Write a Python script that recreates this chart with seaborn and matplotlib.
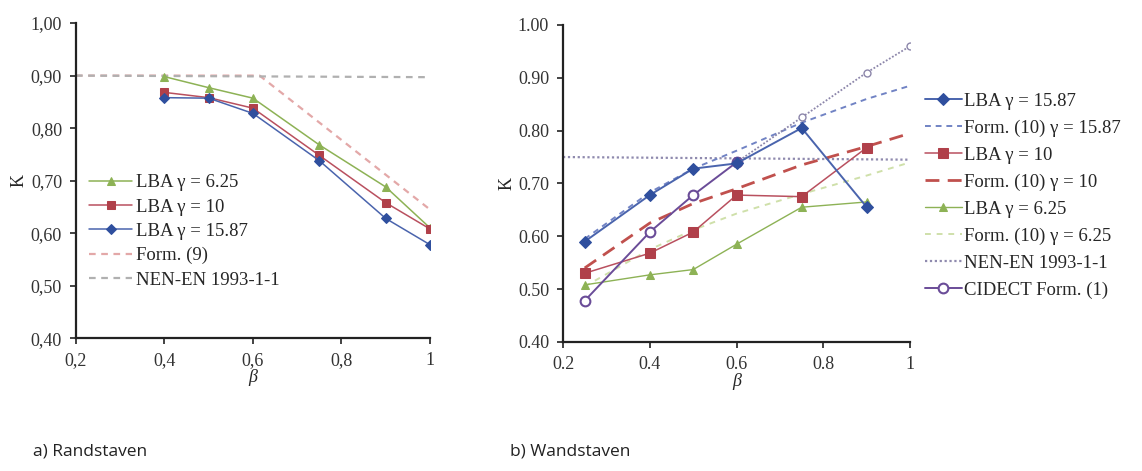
import matplotlib
matplotlib.use("Agg")
import matplotlib.pyplot as plt
import seaborn as sns
import numpy as np

sns.set_style("white")
plt.rcParams['font.family'] = ['Liberation Serif', 'DejaVu Serif']

# ---------------- data: a) Randstaven ----------------
beta_a = [0.4, 0.5, 0.6, 0.75, 0.9, 1.0]
lba_a_625 = [0.898, 0.877, 0.857, 0.768, 0.688, 0.610]
lba_a_10 = [0.868, 0.858, 0.838, 0.748, 0.658, 0.608]
lba_a_1587 = [0.858, 0.857, 0.828, 0.738, 0.628, 0.578]
form9_x = [0.2, 0.615, 1.0]
form9_y = [0.900, 0.900, 0.645]
nen_a_x = [0.2, 1.0]
nen_a_y = [0.900, 0.897]

# ---------------- data: b) Wandstaven ----------------
beta_b = [0.25, 0.4, 0.5, 0.6, 0.75, 0.9]
lba_b_1587 = [0.590, 0.678, 0.728, 0.738, 0.805, 0.655]
lba_b_10 = [0.530, 0.568, 0.608, 0.678, 0.675, 0.768]
lba_b_625 = [0.508, 0.527, 0.537, 0.585, 0.655, 0.665]
form_x = [0.25, 0.4, 0.5, 0.6, 0.75, 0.9, 1.0]
form10_1587 = [0.595, 0.683, 0.728, 0.762, 0.815, 0.860, 0.885]
form10_10 = [0.540, 0.625, 0.662, 0.690, 0.735, 0.770, 0.795]
form10_625 = [0.505, 0.575, 0.612, 0.643, 0.680, 0.715, 0.740]
nen_b_x = [0.2, 1.0]
nen_b_y = [0.750, 0.745]
cidect_x = [0.25, 0.4, 0.5, 0.6]
cidect_y = [0.478, 0.608, 0.678, 0.740]
cidect_ext_x = [0.6, 0.75, 0.9, 1.0]
cidect_ext_y = [0.740, 0.825, 0.910, 0.960]

yticks = [0.4, 0.5, 0.6, 0.7, 0.8, 0.9, 1.0]
xticks = [0.2, 0.4, 0.6, 0.8, 1.0]
ylabels_a = ["0,40", "0,50", "0,60", "0,70", "0,80", "0,90", "1,00"]
xlabels_a = ["0,2", "0,4", "0,6", "0,8", "1"]
ylabels_b = ["0.40", "0.50", "0.60", "0.70", "0.80", "0.90", "1.00"]
xlabels_b = ["0.2", "0.4", "0.6", "0.8", "1"]

BLUE = "#4a64ad"
BLUE_M = "#2f4f9e"
RED = "#b9505f"
RED_M = "#b0404a"
GREEN = "#8db255"
PINK = "#e3a8a8"
GRAY = "#b0b0b0"
PURPLE = "#6a4c98"

fig = plt.figure(figsize=(11.42, 4.71), dpi=100)
ax1 = fig.add_axes([0.0665, 0.282, 0.310, 0.669])
ax2 = fig.add_axes([0.493, 0.274, 0.304, 0.673])

# ---------- left ----------
sns.lineplot(x=form9_x, y=form9_y, ax=ax1, color=PINK, linestyle=(0, (3, 2.5)), lw=1.6, label="Form. (9)")
sns.lineplot(x=nen_a_x, y=nen_a_y, ax=ax1, color=GRAY, linestyle=(0, (3, 2.5)), lw=1.6, label="NEN-EN 1993-1-1")
sns.lineplot(x=beta_a, y=lba_a_625, ax=ax1, color=GREEN, marker="^", markersize=6,
             markeredgecolor=GREEN, lw=1.1, label="LBA γ = 6.25")
sns.lineplot(x=beta_a, y=lba_a_10, ax=ax1, color=RED, marker="s", markersize=6,
             markerfacecolor=RED_M, markeredgecolor=RED_M, lw=1.1, label="LBA γ = 10")
sns.lineplot(x=beta_a, y=lba_a_1587, ax=ax1, color=BLUE, marker="D", markersize=5,
             markerfacecolor=BLUE_M, markeredgecolor=BLUE_M, lw=1.1, label="LBA γ = 15.87")

h, l = ax1.get_legend_handles_labels()
order = [2, 3, 4, 0, 1]
ax1.legend([h[i] for i in order], [l[i] for i in order], loc="upper left",
           bbox_to_anchor=(0.0, 0.562), frameon=False, fontsize=13.5, handlelength=2.3,
           handletextpad=0.2, labelspacing=0.38, borderaxespad=0.3)

# ---------- right ----------
sns.lineplot(x=nen_b_x, y=nen_b_y, ax=ax2, color="#8f8aae", linestyle=(0, (1, 1.2)), lw=1.6, label="NEN-EN 1993-1-1")
sns.lineplot(x=form_x, y=form10_625, ax=ax2, color="#cfe0aa", linestyle=(0, (3, 3)), lw=1.4, label="Form. (10) γ = 6.25")
sns.lineplot(x=form_x, y=form10_10, ax=ax2, color="#c0504d", linestyle=(0, (5, 3)), lw=2.0, label="Form. (10) γ = 10")
sns.lineplot(x=form_x, y=form10_1587, ax=ax2, color="#7183c4", linestyle=(0, (3, 2.5)), lw=1.4, label="Form. (10) γ = 15.87")
ax2.plot(cidect_ext_x, cidect_ext_y, color="#8c86aa", linestyle=(0, (1, 1)), lw=1.3,
         marker="o", markersize=5, markerfacecolor="white", markeredgecolor="#8c86aa")
sns.lineplot(x=beta_b, y=lba_b_625, ax=ax2, color=GREEN, marker="^", markersize=6,
             markeredgecolor=GREEN, lw=1.0, label="LBA γ = 6.25")
sns.lineplot(x=beta_b, y=lba_b_10, ax=ax2, color=RED, marker="s", markersize=7,
             markerfacecolor=RED_M, markeredgecolor=RED_M, lw=1.1, label="LBA γ = 10")
sns.lineplot(x=cidect_x, y=cidect_y, ax=ax2, color=PURPLE, marker="o", markersize=7,
             markerfacecolor="white", markeredgecolor=PURPLE, markeredgewidth=1.5, lw=1.4,
             label="CIDECT Form. (1)")
sns.lineplot(x=beta_b, y=lba_b_1587, ax=ax2, color=BLUE, marker="D", markersize=6,
             markerfacecolor=BLUE_M, markeredgecolor=BLUE_M, lw=1.4, label="LBA γ = 15.87")

h, l = ax2.get_legend_handles_labels()
want = ["LBA γ = 15.87", "Form. (10) γ = 15.87", "LBA γ = 10", "Form. (10) γ = 10",
        "LBA γ = 6.25", "Form. (10) γ = 6.25", "NEN-EN 1993-1-1", "CIDECT Form. (1)"]
hd = dict(zip(l, h))
ax2.legend([hd[k] for k in want], want, loc="upper left", bbox_to_anchor=(1.02, 0.81),
           frameon=False, fontsize=13.5, handlelength=2.0, handletextpad=0.1,
           labelspacing=0.52, borderaxespad=0.0)

for ax, yl, xl in [(ax1, ylabels_a, xlabels_a), (ax2, ylabels_b, xlabels_b)]:
    ax.set_xlim(0.2, 1.0)
    ax.set_ylim(0.4, 1.0)
    ax.set_xticks(xticks)
    ax.set_xticklabels(xl)
    ax.set_yticks(yticks)
    ax.set_yticklabels(yl)
    ax.tick_params(axis="both", direction="out", length=4, width=1.2, colors="#222222",
                   labelsize=13, labelcolor="#333333", pad=6, left=True, bottom=True)
    for s in ["top", "right"]:
        ax.spines[s].set_visible(False)
    for s in ["left", "bottom"]:
        ax.spines[s].set_color("#222222")
        ax.spines[s].set_linewidth(1.6)
    ax.set_xlabel("β", fontsize=13, style="italic", labelpad=0)
    ax.set_ylabel("K", fontsize=13, labelpad=2)
    ax.grid(False)

fig.text(0.029, 0.033, "a) Randstaven", fontsize=12.5, family=["Open Sans", "DejaVu Sans"], color="#222222")
fig.text(0.447, 0.033, "b) Wandstaven", fontsize=12.5, family=["Open Sans", "DejaVu Sans"], color="#222222")

fig.savefig("out.png", dpi=100, facecolor="white")
